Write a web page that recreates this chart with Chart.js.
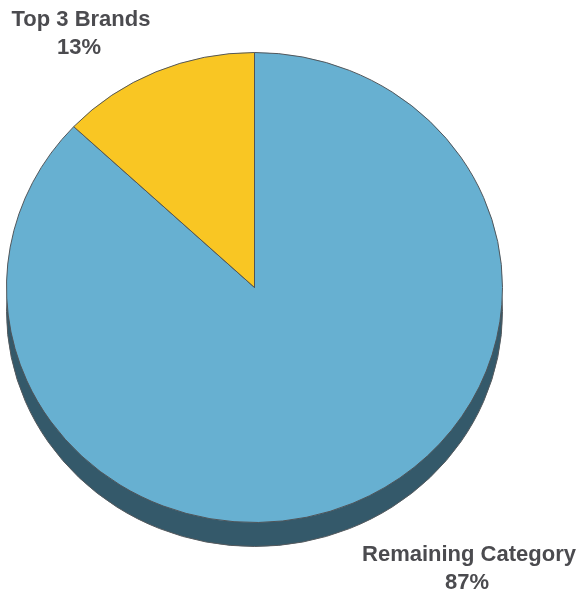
<!DOCTYPE html>
<html>
<head>
<meta charset="utf-8">
<script src="https://cdn.jsdelivr.net/npm/chart.js@4/dist/chart.umd.min.js"></script>
<style>
  html, body { margin: 0; padding: 0; background: #fff; }
  #wrap { width: 579px; height: 592px; }
</style>
</head>
<body>
<div id="wrap"><canvas id="pie" width="579" height="592"></canvas></div>
<script>
// Slices, clockwise from 12 o'clock
const labels = ['Remaining Category', 'Top 3 Brands'];
const shares = [87, 13];
const colors = ['#67b0d1', '#f9c623'];

// Where each label sits (centre x, baseline of first line)
const labelSpots = [
    { x: 469, y: 561 },
    { x: 81, y: 26 }
];

const squash = 235 / 248;   // the pie is drawn slightly flattened
const shadowDrop = 24;

// Flattened pie with a dark "3D" shadow underneath
const tiltPlugin = {
    id: 'tilt',
    beforeDatasetsDraw(chart) {
        const arc = chart.getDatasetMeta(0).data[0];
        if (!arc) return;
        const ctx = chart.ctx;
        const r = arc.outerRadius;

        // shadow
        ctx.save();
        ctx.beginPath();
        ctx.ellipse(arc.x, arc.y + shadowDrop, r, r * squash, 0, 0, Math.PI * 2);
        ctx.fillStyle = '#34596a';
        ctx.fill();
        ctx.lineWidth = 1;
        ctx.strokeStyle = '#555a5e';
        ctx.stroke();
        ctx.restore();

        // flatten the pie itself
        ctx.save();
        ctx.translate(arc.x, arc.y);
        ctx.scale(1, squash);
        ctx.translate(-arc.x, -arc.y);
    },
    afterDatasetsDraw(chart) {
        chart.ctx.restore();
    }
};

// Category name + percentage outside the pie
const labelPlugin = {
    id: 'sliceLabels',
    afterDraw(chart) {
        const ctx = chart.ctx;
        const data = chart.data;
        ctx.save();
        ctx.fillStyle = '#4b4b4f';
        ctx.font = 'bold 22px "Liberation Sans", Arial, sans-serif';
        ctx.textAlign = 'center';
        ctx.textBaseline = 'alphabetic';
        data.labels.forEach((name, i) => {
            const spot = labelSpots[i];
            ctx.fillText(name, spot.x, spot.y);
            ctx.fillText(data.datasets[0].data[i] + '%', spot.x - 2, spot.y + 28);
        });
        ctx.restore();
    }
};

new Chart(document.getElementById('pie'), {
    type: 'pie',
    data: {
        labels: labels,
        datasets: [{
            data: shares,
            backgroundColor: colors,
            borderColor: '#4f5357',
            borderWidth: 1
        }]
    },
    options: {
        responsive: false,
        animation: false,
        devicePixelRatio: 1,
        layout: {
            padding: { left: 6, right: 76, top: 39, bottom: 56 }
        },
        plugins: {
            legend: { display: false },
            tooltip: { enabled: false }
        }
    },
    plugins: [tiltPlugin, labelPlugin]
});
</script>
</body>
</html>
